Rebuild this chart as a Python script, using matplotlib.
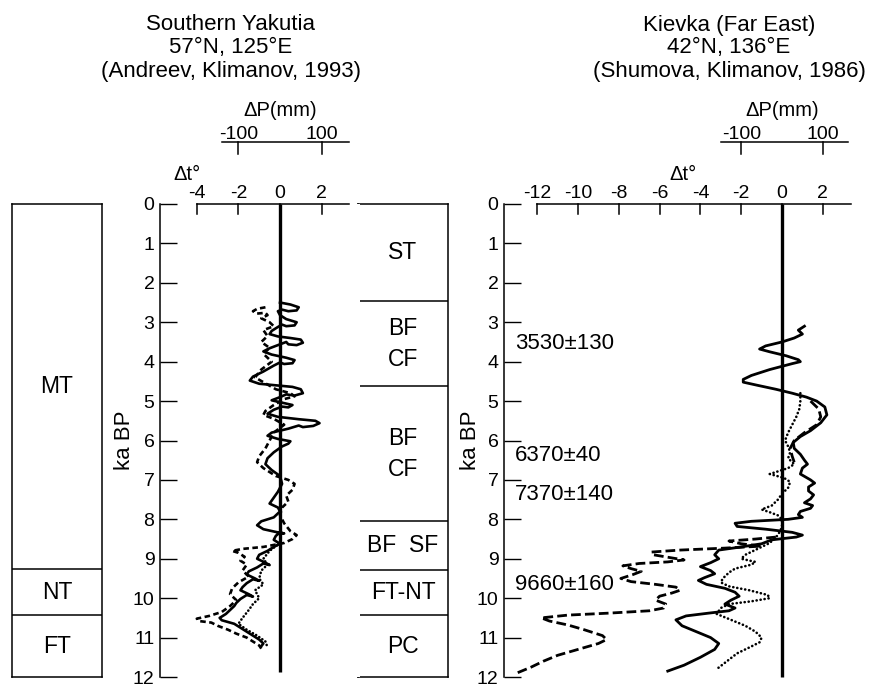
import matplotlib
matplotlib.use("Agg")
import matplotlib.pyplot as plt

plt.rcParams['font.family'] = ['Liberation Sans', 'DejaVu Sans']
plt.rcParams['lines.scale_dashes'] = False

# ---------------- data ----------------
depth_ticks = list(range(0, 13))
yak_dt_ticks = [-4, -2, 0, 2]
kiev_dt_ticks = [-12, -10, -8, -6, -4, -2, 0, 2]
dp_ticks = [-100, 100]          # mm ; 100 mm of dP corresponds to 2 deg of dt
dp_per_dt = 50.0

yak_titles = ["Southern Yakutia", "57°N, 125°E", "(Andreev, Klimanov, 1993)"]
kiev_titles = ["Kievka (Far East)", "42°N, 136°E", "(Shumova, Klimanov, 1986)"]

yak_zone_labels = ["MT", "NT", "FT"]
yak_zone_bounds = [0, 9.27, 10.43, 12]
kiev_zone_labels = ["ST", "BF\nCF", "BF\nCF", "BF  SF", "FT-NT", "PC"]
kiev_zone_bounds = [0, 2.47, 4.63, 8.04, 9.28, 10.43, 12]

kiev_dates = ["3530±130", "6370±40", "7370±140", "9660±160"]
kiev_date_ka = [3.53, 6.37, 7.37, 9.66]

# Southern Yakutia curves (ka BP, delta t)
yak_solid_ka = [2.50, 2.55, 2.62, 2.70, 2.72, 2.68, 2.72, 2.82, 2.92, 3.00, 3.08, 3.10,
                3.06, 3.12, 3.22, 3.30, 3.36, 3.40, 3.44, 3.52, 3.58, 3.56, 3.50, 3.56,
                3.66, 3.74, 3.82, 3.90, 3.96, 4.04, 4.06, 4.02, 4.10, 4.25, 4.38, 4.48,
                4.56, 4.60, 4.64, 4.70, 4.80, 4.86, 4.83, 4.90, 4.98, 5.04, 5.10, 5.16,
                5.14, 5.22, 5.32, 5.40, 5.46, 5.50, 5.56, 5.63, 5.66, 5.62, 5.70, 5.80,
                5.88, 5.96, 6.02, 6.08, 6.15, 6.30, 6.45, 6.60, 6.75, 6.90, 7.10, 7.30,
                7.45, 7.60, 7.70, 7.80, 7.95, 8.05, 8.15, 8.25, 8.32, 8.36, 8.33, 8.42,
                8.52, 8.62, 8.70, 8.80, 8.90, 9.00, 9.10, 9.16, 9.12, 9.22, 9.32, 9.40,
                9.50, 9.56, 9.52, 9.62, 9.72, 9.80, 9.90, 9.96, 9.92, 10.02, 10.12,
                10.20, 10.30, 10.40, 10.50, 10.56, 10.65, 10.75, 10.85, 10.95, 11.05,
                11.15, 11.22]
yak_solid_dt = [0.0, 0.5, 0.9, 0.8, 0.4, 0.1, -0.1, 0.0, 0.3, 0.8, 0.7, 0.3,
                0.1, -0.1, -0.4, -0.5, -0.1, 0.5, 1.0, 1.1, 0.8, 0.4, 0.3, 0.0,
                -0.5, -0.8, -0.4, 0.3, 0.7, 0.6, 0.2, 0.0, -0.3, -0.8, -1.3, -1.45,
                -1.0, -0.2, 0.6, 1.0, 1.1, 0.7, 0.3, 0.0, -0.4, 0.1, 0.6, 0.4,
                0.1, -0.3, -0.6, -0.1, 0.9, 1.7, 1.9, 1.6, 1.1, 0.9, 0.4, -0.4,
                -0.6, -0.1, 0.5, 0.4, 0.1, -0.3, -0.6, -0.7, -0.4, 0.0, 0.1, -0.1,
                -0.3, -0.5, -0.1, 0.0, -0.3, -0.9, -1.1, -0.8, -0.2, 0.2, 0.0, -0.2,
                -0.3, 0.0, -0.3, -0.6, -1.0, -1.1, -0.7, -0.5, -0.8, -1.1, -1.5, -1.6,
                -1.2, -1.0, -1.3, -1.6, -1.8, -1.9, -1.5, -1.3, -1.6, -1.9, -2.1,
                -2.2, -2.4, -2.6, -2.9, -2.8, -2.2, -1.9, -1.6, -1.3, -1.0,
                -0.8, -0.9]

yak_dashed_ka = [2.62, 2.66, 2.72, 2.78, 2.76, 2.82, 2.90, 3.00, 3.10, 3.20, 3.35, 3.50,
                 3.65, 3.80, 4.00, 4.20, 4.40, 4.55, 4.70, 4.80, 4.88, 4.95, 5.10, 5.25,
                 5.35, 5.45, 5.60, 5.80, 6.00, 6.20, 6.40, 6.55, 6.70, 6.90, 7.00, 7.10,
                 7.25, 7.40, 7.55, 7.70, 7.90, 8.10, 8.30, 8.40, 8.50, 8.60, 8.70, 8.75,
                 8.80, 8.85, 8.95, 9.05, 9.15, 9.30, 9.45, 9.60, 9.75, 9.90, 10.05, 10.20,
                 10.35, 10.45, 10.52, 10.58, 10.62, 10.70, 10.80, 10.90, 11.00, 11.10,
                 11.20, 11.28]
yak_dashed_dt = [-0.7, -1.1, -1.3, -1.1, -0.7, -0.6, -0.9, -0.5, -0.3, -0.8, -0.6, -0.9,
                 -0.5, -0.8, -0.4, -0.9, -1.2, -0.7, -0.2, 0.5, 0.7, 0.2, -0.3, -0.7,
                 -0.8, -0.3, 0.2, -0.3, -0.5, -0.7, -1.0, -1.1, -0.8, -0.2, 0.4, 0.7,
                 0.6, 0.3, 0.4, 0.1, 0.0, 0.2, 0.5, 0.8, 0.6, 0.2, -0.8, -1.8,
                 -2.3, -2.0, -1.7, -1.9, -1.6, -1.8, -1.5, -2.0, -2.3, -2.4, -2.1, -2.4,
                 -2.8, -3.4, -4.0, -3.9, -3.3, -3.0, -2.5, -2.1, -1.6, -1.3,
                 -1.0, -0.9]

yak_dotted_ka = [8.60, 8.80, 9.00, 9.15, 9.30, 9.50, 9.65, 9.80, 10.00, 10.15, 10.30,
                 10.50, 10.65, 10.80, 10.95, 11.10, 11.25]
yak_dotted_dt = [0.0, -0.5, -0.8, -0.6, -0.9, -1.0, -0.8, -1.2, -1.0, -1.3, -1.5,
                 -1.8, -2.0, -1.6, -1.1, -0.7, -0.6]

# Kievka curves (ka BP, delta t)
kiev_solid_ka = [3.10, 3.20, 3.30, 3.40, 3.50, 3.60, 3.68, 3.75, 3.85, 3.95, 4.00, 4.05,
                 4.20, 4.35, 4.45, 4.52, 4.60, 4.70, 4.80, 4.90, 5.00, 5.15, 5.35, 5.55,
                 5.75, 5.90, 6.05, 6.20, 6.35, 6.50, 6.60, 6.70, 6.85, 7.00, 7.08, 7.18,
                 7.28, 7.38, 7.48, 7.58, 7.65, 7.72, 7.80, 7.88, 7.95, 8.00, 8.05, 8.10,
                 8.18, 8.25, 8.33, 8.40, 8.45, 8.52, 8.62, 8.70, 8.78, 8.90, 9.00, 9.10,
                 9.20, 9.30, 9.38, 9.48, 9.55, 9.65, 9.75, 9.85, 9.95, 10.05, 10.15,
                 10.25, 10.32, 10.38, 10.45, 10.55, 10.70, 10.85, 11.00, 11.15, 11.30,
                 11.50, 11.70, 11.85]
kiev_solid_dt = [1.1, 0.8, 1.0, 0.6, 0.0, -0.8, -1.1, -0.6, 0.2, 0.8, 0.9, 0.5,
                 -0.6, -1.5, -1.9, -1.9, -1.2, -0.3, 0.5, 1.2, 1.7, 2.1, 2.2, 1.9,
                 1.4, 0.9, 0.55, 0.6, 0.9, 1.1, 1.25, 1.0, 0.9, 1.4, 1.6, 1.3,
                 1.3, 1.55, 1.4, 1.1, 1.5, 1.4, 0.9, 0.8, 1.0, 0.3, -1.5, -2.3,
                 -2.2, -0.8, 0.5, 1.0, 0.7, -0.5, -1.0, -2.0, -3.1, -3.3, -3.1, -3.5,
                 -4.0, -3.5, -3.3, -3.8, -4.1, -3.7, -2.8, -2.3, -2.1, -2.5, -2.8,
                 -2.3, -2.6, -3.6, -4.7, -5.2, -4.9, -4.2, -3.5, -3.1, -3.3,
                 -4.0, -4.8, -5.6]

kiev_dashed_ka = [5.00, 5.20, 5.40, 5.60, 5.80, 6.00, 6.20, 6.40, 6.55, None,
                  8.45, 8.50, 8.55, 8.62, 8.68, 8.73, 8.78, 8.83, 8.90, 8.97, 9.03,
                  9.08, 9.12, 9.18, 9.25, 9.32, 9.40, 9.50, 9.58, 9.65, 9.72, 9.80,
                  9.87, 9.95, 10.05, 10.15, 10.25, 10.32, 10.38, 10.43, 10.50, 10.58,
                  10.68, 10.80, 10.95, 11.05, 11.15, 11.30, 11.45, 11.60, 11.75, 11.90]
kiev_dashed_dt = [1.4, 1.8, 1.9, 1.7, 1.1, 0.6, 0.4, 0.5, 0.6, None,
                  -0.3, -1.3, -2.6, -2.0, -1.0, -2.8, -5.0, -6.4, -6.3, -5.5, -4.8,
                  -5.6, -7.0, -7.8, -7.4, -6.9, -7.3, -7.9, -7.4, -6.2, -5.2, -5.0,
                  -5.4, -6.0, -6.2, -5.7, -5.8, -6.5, -8.5, -10.5, -11.8, -11.4,
                  -10.5, -9.7, -8.8, -8.6, -9.0, -10.0, -11.0, -11.7, -12.3, -13.0]

kiev_dotted_ka = [4.80, 5.00, 5.20, 5.40, 5.60, 5.80, 6.00, 6.15, 6.30, 6.45, 6.60,
                  6.70, 6.80, 6.85, 6.95, 7.05, 7.20, 7.35, 7.50, 7.65, 7.75, 7.82,
                  7.90, 8.00, 8.20, 8.40, 8.60, 8.75, 8.90, 9.00, 9.08, 9.15, 9.25,
                  9.35, 9.50, 9.60, 9.70, 9.80, 9.92, 10.00, 10.08, 10.15, 10.25,
                  10.40, 10.55, 10.70, 10.85, 11.00, 11.12, 11.25, 11.40, 11.60, 11.80]
kiev_dotted_dt = [0.9, 0.9, 0.85, 0.7, 0.5, 0.3, 0.15, 0.3, 0.4, 0.3, 0.6,
                  0.3, -0.3, -0.6, 0.1, 0.4, 0.3, 0.0, -0.2, -0.5, -1.0, -0.6,
                  -0.2, 0.0, 0.0, -0.2, -0.6, -1.2, -1.8, -2.0, -1.3, -1.5, -2.3,
                  -2.6, -2.9, -3.0, -2.6, -1.6, -0.7, -0.6, -1.5, -2.6, -3.0,
                  -3.2, -2.5, -1.8, -1.3, -1.0, -1.1, -1.6, -2.2, -2.7, -3.2]

# ---------------- layout ----------------
W, H = 873, 687
fig = plt.figure(figsize=(W / 100, H / 100), dpi=100)
Y0, Y1 = 204, 677                      # pixel rows of 0 and 12 ka
PX_PER_KA = (Y1 - Y0) / 12.0


def px_axes(x0, x1):
    return fig.add_axes([x0 / W, 1 - Y1 / H, (x1 - x0) / W, (Y1 - Y0) / H])


def ka_of_px(ypx):
    return (ypx - Y0) / PX_PER_KA


def nan_list(v):
    return [float('nan') if a is None else a for a in v]


def zone_column(x0, x1, bounds, labels):
    ax = px_axes(x0, x1)
    ax.set_xlim(0, 1)
    ax.set_ylim(12, 0)
    ax.set_xticks([])
    ax.set_yticks([])
    for s in ax.spines.values():
        s.set_linewidth(1.1)
    for b in bounds[1:-1]:
        ax.axhline(b, color='black', lw=1.1)
    for lab, a, b in zip(labels, bounds[:-1], bounds[1:]):
        ax.text(0.5, (a + b) / 2, lab, ha='center', va='center', fontsize=16.5,
                linespacing=1.45)
    return ax


def curve_panel(x0, x1, zero_px, px_per_deg, dt_ticks, dt_line, dp_line,
                dtlabel_x, zero_end):
    ax = px_axes(x0, x1)
    ax.set_xlim((x0 - zero_px) / px_per_deg, (x1 - zero_px) / px_per_deg)
    ax.set_ylim(12, 0)
    for s in ['top', 'right', 'bottom']:
        ax.spines[s].set_visible(False)
    ax.spines['left'].set_linewidth(1.1)
    ax.set_xticks([])
    ax.set_yticks(depth_ticks)
    ax.set_yticklabels([str(t) for t in depth_ticks])
    ax.tick_params(axis='y', direction='in', length=12, width=1.0, pad=4,
                   labelsize=14)
    ax.set_ylabel('ka BP', fontsize=16, labelpad=2)

    # top delta-t scale
    kw = dict(color='black', lw=1.1, clip_on=False)
    ax.plot(dt_line, [0, 0], **kw)
    tick_len = 10 / PX_PER_KA
    for t in dt_ticks:
        ax.plot([t, t], [0, tick_len], **kw)
        ax.text(t, -0.15, str(t), ha='center', va='baseline', fontsize=14)
    ax.text(dtlabel_x, -0.62, 'Δt°', ha='center', va='baseline', fontsize=14.5)

    # precipitation scale
    yp = ka_of_px(142)
    ax.plot(dp_line, [yp, yp], **kw)
    for p in dp_ticks:
        ax.plot([p / dp_per_dt, p / dp_per_dt], [yp, yp + 12 / PX_PER_KA], **kw)
        ax.text(p / dp_per_dt, yp - 0.07, str(p), ha='center', va='baseline',
                fontsize=14)
    ax.text(0, ka_of_px(116), 'ΔP(mm)', ha='center', va='baseline', fontsize=14.5)

    # zero line
    ax.plot([0, 0], [0, zero_end], color='black', lw=2.4, solid_capstyle='butt',
            clip_on=False)
    return ax


# vegetation columns
zone_column(12, 102, yak_zone_bounds, yak_zone_labels)
zone_column(358, 448, kiev_zone_bounds, kiev_zone_labels)

# Southern Yakutia
axL = curve_panel(160, 360, 280, 20.8, yak_dt_ticks, [-4, 3.3], [-2.8, 3.3],
                  -4.45, 11.88)
axL.yaxis.set_label_coords(-0.125, 0.5)
axL.plot(yak_solid_dt, yak_solid_ka, color='black', lw=1.9, solid_joinstyle='round')
axL.plot(yak_dashed_dt, yak_dashed_ka, color='black', lw=1.9, linestyle=(0, (4, 2.5)))
axL.plot(yak_dotted_dt, yak_dotted_ka, color='black', lw=1.9, linestyle=(0, (0.1, 2.6)),
         dash_capstyle='round')

# Kievka
axR = curve_panel(504, 865, 782, 20.4, kiev_dt_ticks, [-12, 3.4], [-3.0, 3.25],
                  -4.85, 12.0)
axR.yaxis.set_label_coords(-0.064, 0.5)
axR.plot(kiev_solid_dt, kiev_solid_ka, color='black', lw=2.0, solid_joinstyle='round')
axR.plot(nan_list(kiev_dashed_dt), nan_list(kiev_dashed_ka), color='black', lw=2.0,
         linestyle=(0, (7, 3)))
axR.plot(kiev_dotted_dt, kiev_dotted_ka, color='black', lw=1.9,
         linestyle=(0, (0.1, 2.8)), dash_capstyle='round')
for lab, ka in zip(kiev_dates, kiev_date_ka):
    axR.text((515 - 782) / 20.4, ka, lab, ha='left', va='center', fontsize=16)

# titles
for i, t in enumerate(yak_titles):
    fig.text(231 / W, 1 - (25 + 23 * i) / H, t, ha='center', va='center', fontsize=16)
for i, t in enumerate(kiev_titles):
    fig.text(729 / W, 1 - (25 + 23 * i) / H, t, ha='center', va='center', fontsize=16)

fig.savefig('out.png', dpi=100)
